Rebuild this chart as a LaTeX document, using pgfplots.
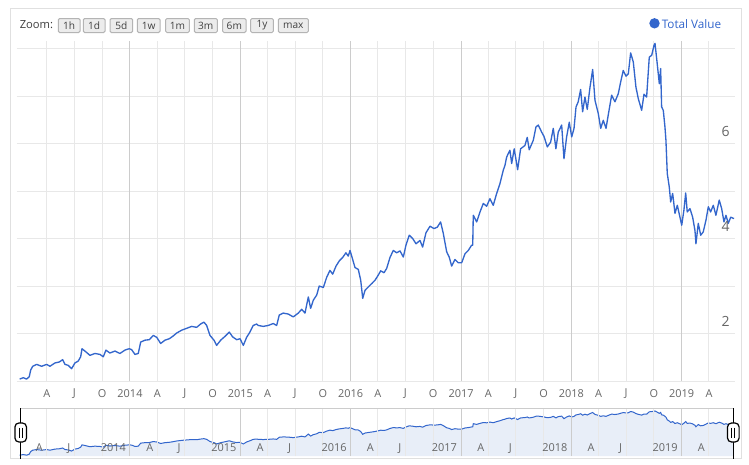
\documentclass[border=0pt]{standalone}
\usepackage{pgfplots}
\pgfplotsset{compat=1.18}
\usepackage{pgfplotstable}
\usepackage{fontspec}
\setmainfont{Open Sans}
\definecolor{serblue}{RGB}{51,102,204}
\definecolor{gridlight}{RGB}{232,232,232}
\definecolor{gridyear}{RGB}{204,204,204}
\definecolor{labgray}{RGB}{102,102,102}
\definecolor{navfill}{RGB}{232,238,248}
\definecolor{framegray}{RGB}{224,224,224}
\definecolor{btnfill}{RGB}{236,236,236}
\definecolor{btnborder}{RGB}{180,180,180}

\pgfplotstableread{
x y
2013.000 1.04
2013.033 1.07
2013.063 1.04
2013.087 1.09
2013.100 1.23
2013.118 1.31
2013.154 1.35
2013.199 1.31
2013.245 1.35
2013.275 1.31
2013.320 1.38
2013.359 1.40
2013.390 1.45
2013.411 1.35
2013.440 1.33
2013.471 1.26
2013.501 1.38
2013.531 1.42
2013.553 1.51
2013.565 1.68
2013.592 1.63
2013.637 1.54
2013.682 1.58
2013.728 1.56
2013.758 1.51
2013.782 1.65
2013.818 1.59
2013.864 1.63
2013.909 1.58
2013.954 1.65
2013.993 1.68
2014.015 1.66
2014.045 1.56
2014.075 1.58
2014.097 1.82
2014.136 1.86
2014.175 1.87
2014.211 1.96
2014.242 1.92
2014.278 1.79
2014.317 1.86
2014.356 1.89
2014.387 1.94
2014.423 2.01
2014.468 2.07
2014.514 2.11
2014.559 2.15
2014.604 2.13
2014.640 2.20
2014.670 2.24
2014.695 2.17
2014.725 1.96
2014.761 1.86
2014.785 1.75
2014.822 1.86
2014.861 1.94
2014.900 2.03
2014.930 1.93
2014.967 1.87
2014.997 1.89
2015.027 1.75
2015.057 1.92
2015.087 2.03
2015.117 2.17
2015.148 2.20
2015.162 2.17
2015.208 2.15
2015.253 2.17
2015.298 2.21
2015.329 2.17
2015.353 2.39
2015.389 2.43
2015.434 2.41
2015.480 2.35
2015.525 2.43
2015.556 2.51
2015.586 2.43
2015.616 2.77
2015.637 2.53
2015.661 2.70
2015.692 2.81
2015.715 3.00
2015.752 2.97
2015.782 3.18
2015.812 3.33
2015.837 3.25
2015.867 3.42
2015.897 3.53
2015.927 3.60
2015.957 3.70
2015.978 3.63
2015.994 3.75
2016.018 3.56
2016.039 3.39
2016.069 3.35
2016.091 3.12
2016.109 2.74
2016.130 2.91
2016.159 2.98
2016.190 3.05
2016.220 3.12
2016.250 3.23
2016.272 3.32
2016.302 3.28
2016.326 3.37
2016.356 3.60
2016.386 3.75
2016.417 3.70
2016.447 3.74
2016.477 3.61
2016.501 3.86
2016.531 4.07
2016.562 4.00
2016.592 3.89
2016.628 3.96
2016.652 3.82
2016.682 4.12
2016.719 4.26
2016.755 4.21
2016.785 4.24
2016.815 4.35
2016.839 4.11
2016.870 3.72
2016.893 3.61
2016.915 3.42
2016.945 3.56
2016.975 3.49
2017.006 3.49
2017.036 3.68
2017.066 3.75
2017.096 3.86
2017.106 3.86
2017.111 4.49
2017.142 4.35
2017.172 4.56
2017.202 4.74
2017.232 4.68
2017.262 4.84
2017.292 4.70
2017.323 4.95
2017.353 5.16
2017.383 5.44
2017.398 5.54
2017.414 5.72
2017.443 5.86
2017.459 5.58
2017.482 5.89
2017.513 5.45
2017.540 5.89
2017.579 5.96
2017.600 6.13
2017.618 5.87
2017.655 6.07
2017.679 6.35
2017.700 6.39
2017.731 6.24
2017.752 6.15
2017.782 5.93
2017.812 6.03
2017.836 6.32
2017.860 5.89
2017.881 6.24
2017.912 6.39
2017.933 5.68
2017.957 6.14
2017.981 6.45
2018.003 6.14
2018.024 6.32
2018.042 6.77
2018.062 6.88
2018.084 7.14
2018.102 6.67
2018.123 6.98
2018.144 6.72
2018.169 7.19
2018.193 7.56
2018.214 6.91
2018.244 6.63
2018.266 6.32
2018.289 6.49
2018.314 6.32
2018.334 6.60
2018.365 7.02
2018.395 6.88
2018.425 7.05
2018.447 7.30
2018.470 7.54
2018.495 7.42
2018.516 7.47
2018.537 7.91
2018.561 7.72
2018.585 7.19
2018.606 6.95
2018.637 6.70
2018.658 7.04
2018.682 6.98
2018.706 7.82
2018.728 7.86
2018.749 8.07
2018.758 8.11
2018.778 7.68
2018.797 7.26
2018.809 7.58
2018.818 6.77
2018.833 6.70
2018.848 6.35
2018.857 6.07
2018.869 5.37
2018.887 5.09
2018.900 4.77
2018.918 4.95
2018.939 4.53
2018.960 4.70
2018.984 4.45
2019.000 4.28
2019.020 4.60
2019.036 4.96
2019.050 4.56
2019.075 4.63
2019.099 4.45
2019.120 4.17
2019.129 3.89
2019.150 4.32
2019.172 4.07
2019.195 4.14
2019.220 4.39
2019.241 4.67
2019.262 4.56
2019.286 4.70
2019.310 4.49
2019.340 4.81
2019.362 4.63
2019.383 4.35
2019.401 4.49
2019.422 4.32
2019.444 4.45
2019.474 4.42
}\valdata

\begin{document}
\begin{tikzpicture}
% ---------- frame and decorations (px units) ----------
\begin{scope}[x=0.75pt,y=-0.75pt]
\path[use as bounding box] (0,0) rectangle (749,464);
\fill[white] (0,0) rectangle (749,464);
\draw[framegray, line width=0.75pt] (10,8.3) rectangle (741.7,458.5);
\node[anchor=west, inner sep=0pt, font=\fontsize{8.4pt}{10pt}\selectfont, text=black!75] at (19.5,25) {Zoom:};
\foreach \a/\b/\t in {58.3/80/1h, 83.3/105/1d, 110/132.7/5d, 137.3/160/1w, 165.7/189.3/1m, 194.3/217.3/3m, 222.7/246/6m, 250.7/273.3/1y, 278.3/308.3/max}{
  \draw[btnborder, fill=btnfill, line width=0.75pt, rounded corners=1pt] (\a,18.5) rectangle (\b,32.5);
  \node[inner sep=0pt, font=\fontsize{7.6pt}{9pt}\selectfont, text=black!75] at ({(\a+\b)/2},25.5) {\t};
}
\fill[serblue] (654.5,23.3) circle (5.2);
\node[anchor=west, inner sep=0pt, font=\fontsize{8.8pt}{10pt}\selectfont, text=serblue] at (661.5,23.8) {Total Value};
\end{scope}

% ---------- main chart ----------
\begin{axis}[
  at={(12.75pt,-285.75pt)}, anchor=south west,
  scale only axis, width=538.5pt, height=255pt,
  xmin=2012.976, xmax=2019.483, ymin=1, ymax=8.16,
  axis line style={draw=none},
  major tick length=0pt,
  xtick={2013.247,2013.496,2013.748,2014.247,2014.496,2014.748,2015.247,2015.496,2015.748,2016.247,2016.496,2016.748,2017.247,2017.496,2017.748,2018.247,2018.496,2018.748,2019.247},
  xticklabels={A,J,O,A,J,O,A,J,O,A,J,O,A,J,O,A,J,O,A},
  extra x ticks={2014,2015,2016,2017,2018,2019},
  extra x tick labels={2014,2015,2016,2017,2018,2019},
  extra x tick style={xmajorgrids=true, major grid style={draw=gridyear, line width=0.75pt}},
  xmajorgrids, ymajorgrids,
  major grid style={draw=gridlight, line width=0.75pt},
  ytick={1,2,3,4,5,6,7,8}, yticklabels={},
  xticklabel style={font=\fontsize{8.2pt}{9pt}\selectfont, text=labgray, anchor=center, yshift=-9.5pt},
]
\addplot[serblue, line width=1pt, line join=round] table[x=x,y=y] {\valdata};
\node[anchor=base east, inner sep=0pt, xshift=-3.75pt, yshift=5.3pt, font=\fontsize{10.5pt}{12pt}\selectfont, text=labgray] at (axis cs:2019.483,6) {6};
\node[anchor=base east, inner sep=0pt, xshift=-3.75pt, yshift=5.3pt, font=\fontsize{10.5pt}{12pt}\selectfont, text=labgray] at (axis cs:2019.483,4) {4};
\node[anchor=base east, inner sep=0pt, xshift=-3.75pt, yshift=5.3pt, font=\fontsize{10.5pt}{12pt}\selectfont, text=labgray] at (axis cs:2019.483,2) {2};
\end{axis}

% ---------- navigator ----------
\begin{axis}[
  at={(12.75pt,-342pt)}, anchor=south west,
  scale only axis, width=538.5pt, height=36pt,
  xmin=2012.976, xmax=2019.483, ymode=log, ymin=1, ymax=9.32,
  axis on top,
  axis line style={draw=none},
  major tick length=0pt,
  xtick={2013.247,2013.496,2013.748,2014.247,2014.496,2014.748,2015.247,2015.496,2015.748,2016.247,2016.496,2016.748,2017.247,2017.496,2017.748,2018.247,2018.496,2018.748,2019.247},
  xticklabels={A,J,{},A,J,{},A,J,{},A,J,{},A,J,{},A,J,{},A},
  extra x ticks={2014,2015,2016,2017,2018,2019},
  extra x tick labels={2014,2015,2016,2017,2018,2019},
  extra x tick style={xmajorgrids=true, major grid style={draw=gridyear, line width=0.75pt}},
  xmajorgrids,
  major grid style={draw=gridlight, line width=0.75pt},
  ytick=\empty,
  xticklabel style={font=\fontsize{8.2pt}{9pt}\selectfont, text=labgray, anchor=base east, inner sep=0pt, xshift=-2.85pt, yshift=3.3pt},
]
\addplot[draw=none, fill=navfill] table[x=x,y=y] {\valdata} \closedcycle;
\addplot[serblue, line width=0.75pt] table[x=x,y=y] {\valdata};
\end{axis}

% ---------- navigator handles ----------
\begin{scope}[x=0.75pt,y=-0.75pt]
\draw[gray!40, line width=0.75pt] (20.7,408) -- (733.3,408);
\foreach \hx in {20.7,733.3}{
  \draw[black, line width=0.9pt] (\hx,408) -- (\hx,458.5);
  \draw[black, fill=white, line width=0.9pt, rounded corners=3pt] ({\hx-5.8},423) rectangle ({\hx+5.8},442);
  \draw[black, line width=0.8pt] ({\hx-1.6},427.5) -- ({\hx-1.6},437.5);
  \draw[black, line width=0.8pt] ({\hx+1.6},427.5) -- ({\hx+1.6},437.5);
}
\end{scope}
\end{tikzpicture}
\end{document}
